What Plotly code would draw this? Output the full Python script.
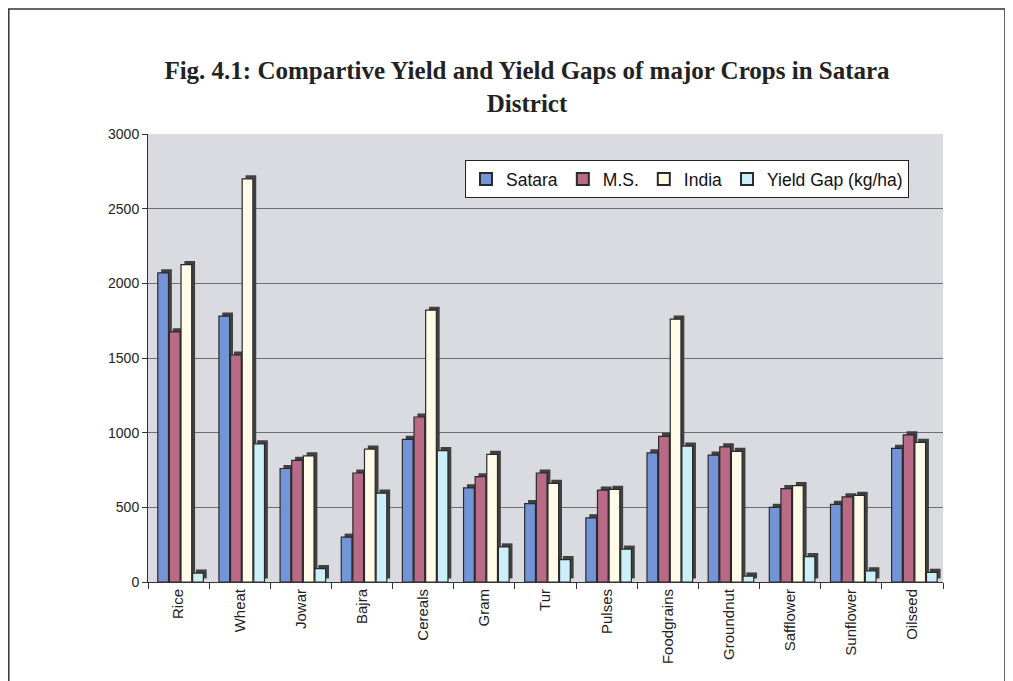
import plotly.graph_objects as go

categories = ["Rice", "Wheat", "Jowar", "Bajra", "Cereals", "Gram", "Tur", "Pulses",
              "Foodgrains", "Groundnut", "Safflower", "Sunflower", "Oilseed"]
satara = [2070, 1780, 760, 300, 955, 630, 525, 430, 865, 850, 500, 520, 895]
ms = [1675, 1520, 815, 730, 1105, 705, 730, 615, 975, 905, 625, 570, 985]
india = [2125, 2700, 845, 890, 1820, 855, 660, 620, 1760, 875, 645, 580, 935]
yield_gap = [60, 925, 90, 595, 880, 235, 150, 220, 910, 40, 170, 75, 65]

series_names = ["Satara", "M.S.", "India", "Yield Gap (kg/ha)"]
series_values = [satara, ms, india, yield_gap]
series_colors = ["#7494d8", "#b96a87", "#fffbe8", "#ccf0fa"]

y_ticks = [0, 500, 1000, 1500, 2000, 2500, 3000]

W = 0.175     # bar width (category units)
P = 0.19      # bar pitch
START = -0.34
DX = 0.055    # 3D side offset
DY = 24       # 3D top offset

FW, FH = 1005, 673
L, T = 140, 126
PW, PH = 795, 448

fig = go.Figure()

# dark 3D "side" shadows first
for i, (name, vals) in enumerate(zip(series_names, series_values)):
    fig.add_trace(go.Bar(
        x=categories, y=vals, base=DY, width=W, offset=START + i * P + DX,
        marker=dict(color="#404040", line=dict(width=0)),
        showlegend=False, hoverinfo="skip"))

for i, (name, vals, col) in enumerate(zip(series_names, series_values, series_colors)):
    fig.add_trace(go.Bar(
        x=categories, y=vals, width=W, offset=START + i * P, name=name,
        marker=dict(color=col, line=dict(color="#2a2a2a", width=1.2))))

fig.update_layout(
    width=FW, height=FH,
    barmode="overlay",
    paper_bgcolor="white",
    plot_bgcolor="#dadbe0",
    margin=dict(l=L, r=FW - L - PW, t=T, b=FH - T - PH),
    title=dict(
        text="<b>Fig. 4.1: Compartive Yield and Yield Gaps of major Crops in Satara<br>District</b>",
        x=(527 - 8) / FW, xanchor="center", y=1 - 71 / FH, yanchor="top", yref="container",
        font=dict(family="Liberation Serif", size=25, color="#222222")),
    legend=dict(
        orientation="h", x=(465 - 148) / PW, y=(582 - 160) / PH, xanchor="left", yanchor="top",
        bgcolor="white", bordercolor="#222222", borderwidth=1,
        font=dict(family="Liberation Sans, Arial", size=17.5, color="#111111"),
        itemsizing="constant", traceorder="normal"),
    font=dict(family="Liberation Sans, Arial", color="#222222"),
    shapes=[dict(type="rect", xref="paper", yref="paper",
                 x0=(0 - L) / PW + 0.001, x1=(997 - L) / PW,
                 y0=-0.4, y1=(T + PH - 0) / PH - 0.002,
                 line=dict(color="#333333", width=1.5), fillcolor="rgba(0,0,0,0)",
                 layer="below")],
)

fig.update_xaxes(
    range=[-0.5, 12.5], tickangle=-90, tickson="boundaries",
    ticks="outside", ticklen=6, tickcolor="#333333",
    showline=True, linecolor="#333333", linewidth=1,
    tickfont=dict(family="Liberation Sans, Arial", size=15, color="#222222"),
    showgrid=False)
fig.update_yaxes(
    range=[0, 3000], tickvals=y_ticks, ticks="outside", ticklen=5, tickcolor="#333333",
    showline=True, linecolor="#333333", linewidth=1,
    gridcolor="#6e6e6e", gridwidth=1,
    tickfont=dict(family="Liberation Sans, Arial", size=14, color="#222222"),
    zeroline=False)

fig.write_html("out.html")
